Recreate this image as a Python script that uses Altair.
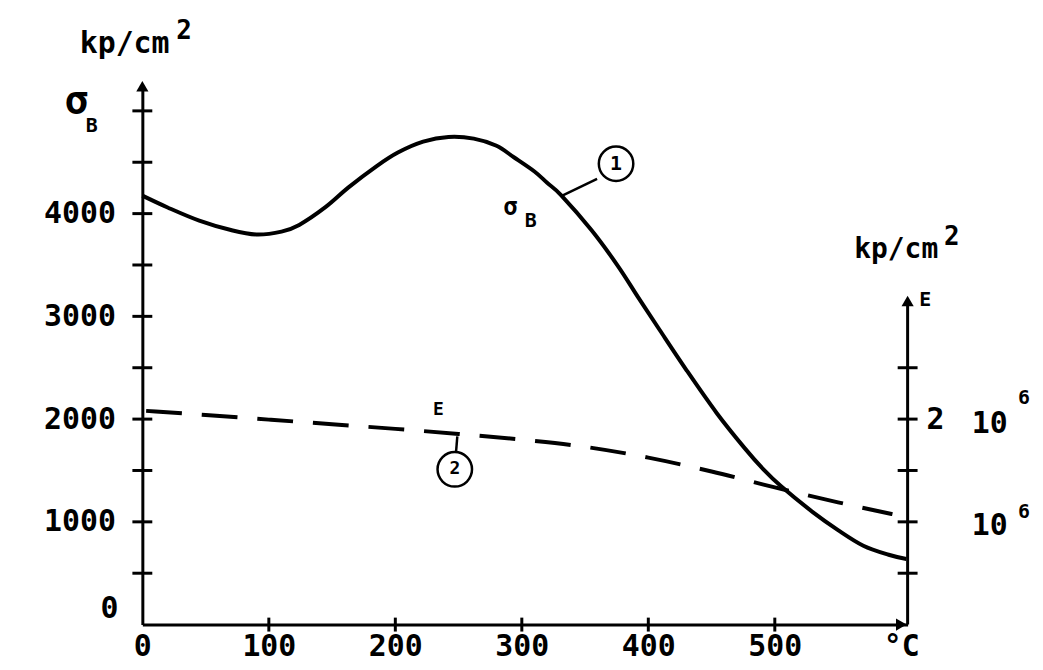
import altair as alt
import pandas as pd

# ---------------- data ----------------
# curve 1: tensile strength sigma_B (kp/cm^2) vs temperature (deg C)
T_sigma = [0, 20, 45, 70, 90, 110, 124, 145, 163, 185, 202, 222, 242, 262, 280,
           294, 310, 320, 331, 355, 376, 392, 409, 430, 454, 476, 491, 505, 530,
           550, 570, 590, 604]
sigma_B = [4175, 4060, 3932, 3840, 3797, 3825, 3890, 4065, 4255, 4460, 4594, 4700,
           4746, 4730, 4660, 4546, 4410, 4300, 4180, 3840, 3490, 3185, 2867, 2480,
           2060, 1720, 1511, 1346, 1095, 920, 768, 680, 639]

# curve 2: modulus E (10^6 kp/cm^2) vs temperature
T_E = [3, 50, 100, 150, 200, 250, 300, 350, 400, 450, 500, 550, 593]
E_mod = [2.08, 2.04, 1.995, 1.95, 1.905, 1.855, 1.80, 1.73, 1.625, 1.49, 1.335,
         1.19, 1.075]

# axes
x_label_values = [0, 100, 200, 300, 400, 500, 600]
y_label_values = [1000, 2000, 3000, 4000]
left_tick_values = [500, 1000, 1500, 2000, 2500, 3000, 3500, 4000, 4500, 5000]
bottom_tick_values = [100, 200, 300, 400, 500]
right_tick_values = [0.5, 1.0, 1.5, 2.0, 2.5]   # 10^6 kp/cm^2
T_right_axis = 605
E_right_top = 3.1

FONT = "DejaVu Sans Mono"
E_SCALE = 1000  # 1 x 10^6 kp/cm^2 drawn at 1000 on the left scale

xs = alt.Scale(domain=[0, 605], nice=False, zero=False)
ys = alt.Scale(domain=[0, 5240], nice=False, zero=False)

sig_df = pd.DataFrame({"T": T_sigma, "v": sigma_B})
e_df = pd.DataFrame({"T": T_E, "v": [e * E_SCALE for e in E_mod]})

X = lambda **kw: alt.X("T:Q", scale=xs, **kw)
Y = lambda **kw: alt.Y("v:Q", scale=ys, **kw)

x_axis = alt.Axis(values=x_label_values, ticks=False, grid=False, title=None,
                  domainColor="black", domainWidth=3, labelFont=FONT,
                  labelFontSize=30, labelFontWeight="bold", labelColor="black",
                  labelPadding=7, labelFlush=False, labelOverlap=False,
                  labelExpr="datum.value == 600 ? '°C' : datum.label")
y_axis = alt.Axis(values=y_label_values, ticks=False, grid=False, title=None,
                  format="d",
                  domainColor="black", domainWidth=3, labelFont=FONT,
                  labelFontSize=30, labelFontWeight="bold", labelColor="black",
                  labelPadding=27, labelFlush=False, labelOverlap=False)

sigma_line = alt.Chart(sig_df).mark_line(
    color="black", strokeWidth=4, interpolate="cardinal", clip=False
).encode(x=X(axis=x_axis), y=Y(axis=y_axis))

e_line = alt.Chart(e_df).mark_line(
    color="black", strokeWidth=4, strokeDash=[36, 20], interpolate="monotone"
).encode(x=X(axis=x_axis), y=Y(axis=y_axis))

# manual crossing ticks
lt = pd.DataFrame({"T": [0] * len(left_tick_values), "v": left_tick_values})
left_ticks = alt.Chart(lt).mark_tick(orient="horizontal", size=20, thickness=3,
                                     color="black", opacity=1).encode(
    x=X(axis=x_axis), y=Y(axis=y_axis))
bt = pd.DataFrame({"T": bottom_tick_values, "v": [0] * len(bottom_tick_values)})
bottom_ticks = alt.Chart(bt).mark_tick(orient="vertical", size=14, thickness=3,
                                       color="black", opacity=1).encode(
    x=X(axis=x_axis), y=Y(axis=y_axis))
rt = pd.DataFrame({"T": [T_right_axis] * len(right_tick_values),
                   "v": [r * E_SCALE for r in right_tick_values]})
right_ticks = alt.Chart(rt).mark_tick(orient="horizontal", size=20, thickness=3,
                                      color="black", opacity=1).encode(
    x=X(axis=x_axis), y=Y(axis=y_axis))

ra = pd.DataFrame({"T": [T_right_axis], "v": [0], "v2": [E_right_top * E_SCALE]})
right_axis = alt.Chart(ra).mark_rule(color="black", strokeWidth=3).encode(
    x=X(axis=x_axis), y=Y(axis=y_axis), y2="v2:Q")

arrows = pd.DataFrame({
    "T": [0, T_right_axis, 600],
    "v": [5240, E_right_top * E_SCALE + 50, 0],
    "shape": ["triangle-up", "triangle-up", "triangle-right"],
})
arrow_marks = alt.Chart(arrows).mark_point(filled=True, color="black", size=150,
                                           opacity=1).encode(
    x=X(axis=x_axis), y=Y(axis=y_axis), shape=alt.Shape("shape:N", scale=None))

# annotations
ann = pd.DataFrame({
    "T": [-14, 33, -52, -40, 291, 307, 234, 596, 640, 619, 627, 670, 697, 670, 697,
          374.5, 247, -26],
    "v": [5647, 5773, 5095, 4853, 4058, 3923, 2092, 3642, 3768, 3158, 1995, 1956,
          2208, 959, 1094, 4485, 1511, 155],
    "text": ["kp/cm", "2", "σ", "B", "σ", "B", "E", "kp/cm", "2", "E", "2", "10",
             "6", "10", "6", "1", "2", "0"],
    "size": [30, 26, 40, 20, 24, 20, 18, 28, 26, 20, 30, 30, 20, 30, 20, 20, 18, 30],
})
texts = alt.Chart(ann).mark_text(font=FONT, fontWeight="bold", color="black",
                                 align="center", baseline="middle").encode(
    x=X(axis=x_axis), y=Y(axis=y_axis), text="text:N",
    size=alt.Size("size:Q", scale=None))

circ = pd.DataFrame({"T": [374.5, 247], "v": [4485, 1511]})
circles = alt.Chart(circ).mark_point(shape="circle", filled=False, color="black",
                                     strokeWidth=2.5, size=1200, opacity=1).encode(
    x=X(axis=x_axis), y=Y(axis=y_axis))

lead = pd.DataFrame({"T": [332, 249], "v": [4175, 1831],
                     "T2": [359.5, 248], "v2": [4339, 1680]})
leaders = alt.Chart(lead).mark_rule(color="black", strokeWidth=2.5).encode(
    x=X(axis=x_axis), y=Y(axis=y_axis), x2="T2:Q", y2="v2:Q")

chart = alt.layer(
    sigma_line, e_line, left_ticks, bottom_ticks, right_ticks, right_axis,
    arrow_marks, texts, circles, leaders
).properties(
    width=769, height=541,
    autosize=alt.AutoSizeParams(type="none"),
    padding={"left": 135, "top": 77, "right": 128, "bottom": 36},
    background="white",
).configure_view(stroke=None)

chart.save("out.html", embed_options={"renderer": "svg", "actions": False})
